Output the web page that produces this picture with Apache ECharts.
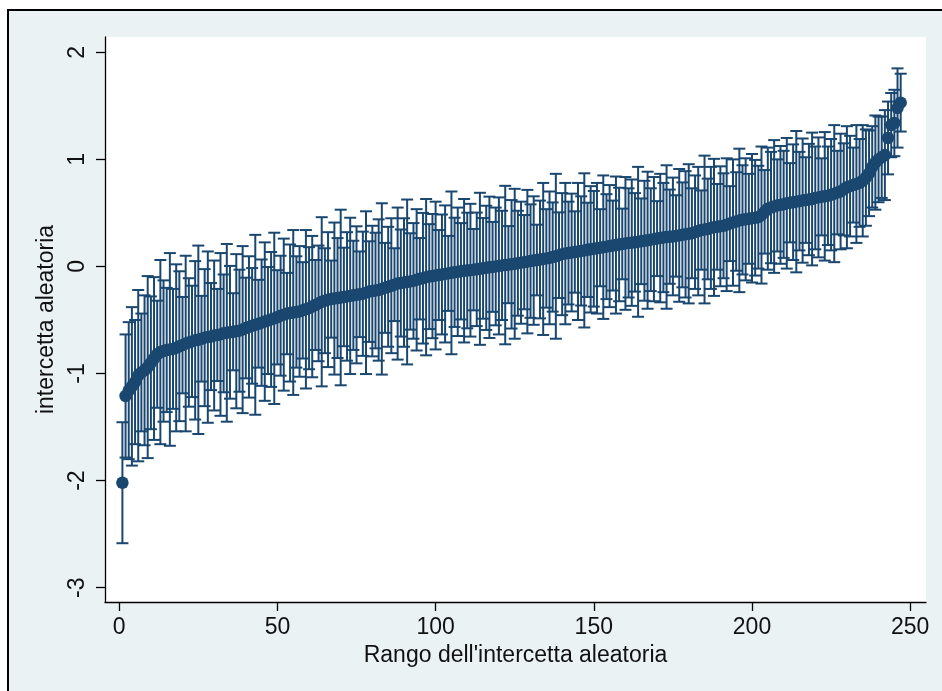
<!DOCTYPE html>
<html>
<head>
<meta charset="utf-8">
<script src="https://cdn.jsdelivr.net/npm/echarts@6/dist/echarts.min.js"></script>
<style>
html,body{margin:0;padding:0;background:#ffffff;}
#chart{width:942px;height:691px;}
</style>
</head>
<body>
<div id="chart"></div>
<script>
// Point estimates of the random intercepts, sorted by rank (1..247)
const estimates = [
-2.02,-1.21,-1.16,-1.12,-1.08,-1.02,-0.99,-0.97,-0.94,-0.90,
-0.86,-0.82,-0.80,-0.79,-0.78,-0.775,-0.77,-0.76,-0.745,-0.735,
-0.72,-0.71,-0.70,-0.69,-0.685,-0.675,-0.665,-0.66,-0.655,-0.645,
-0.64,-0.635,-0.625,-0.62,-0.615,-0.61,-0.605,-0.60,-0.59,-0.575,
-0.565,-0.555,-0.545,-0.535,-0.525,-0.515,-0.505,-0.495,-0.485,-0.475,
-0.46,-0.45,-0.44,-0.435,-0.43,-0.425,-0.42,-0.41,-0.40,-0.39,
-0.375,-0.36,-0.345,-0.33,-0.32,-0.31,-0.305,-0.30,-0.295,-0.29,
-0.285,-0.28,-0.275,-0.27,-0.265,-0.26,-0.255,-0.245,-0.235,-0.23,
-0.225,-0.22,-0.21,-0.20,-0.19,-0.18,-0.17,-0.16,-0.155,-0.15,
-0.145,-0.14,-0.135,-0.125,-0.115,-0.11,-0.10,-0.095,-0.09,-0.085,
-0.08,-0.075,-0.07,-0.065,-0.06,-0.055,-0.05,-0.045,-0.04,-0.038,
-0.035,-0.03,-0.027,-0.022,-0.018,-0.013,-0.008,-0.004,0.0,0.005,
0.01,0.013,0.017,0.02,0.025,0.03,0.035,0.04,0.045,0.05,
0.055,0.06,0.065,0.07,0.075,0.08,0.088,0.095,0.105,0.115,
0.12,0.125,0.13,0.135,0.14,0.145,0.15,0.155,0.16,0.165,
0.17,0.175,0.18,0.185,0.19,0.195,0.20,0.205,0.21,0.215,
0.22,0.222,0.225,0.23,0.235,0.24,0.245,0.25,0.255,0.26,
0.265,0.27,0.275,0.278,0.28,0.285,0.29,0.295,0.30,0.305,
0.31,0.32,0.33,0.34,0.345,0.35,0.36,0.365,0.37,0.375,
0.38,0.39,0.40,0.41,0.42,0.43,0.435,0.44,0.445,0.45,
0.455,0.46,0.48,0.51,0.54,0.55,0.56,0.57,0.575,0.58,
0.59,0.595,0.60,0.605,0.61,0.615,0.62,0.625,0.63,0.64,
0.645,0.65,0.655,0.66,0.67,0.68,0.69,0.70,0.72,0.74,
0.75,0.76,0.77,0.78,0.80,0.83,0.87,0.93,0.97,1.00,
1.02,1.04,1.20,1.32,1.34,1.48,1.53
];
// Half-widths of the confidence intervals (same order)
const halfWidths = [
0.565,0.575,0.64,0.74,0.58,0.80,0.55,0.70,0.85,0.62,
0.76,0.50,0.86,0.66,0.58,0.90,0.56,0.78,0.70,0.45,
0.82,0.60,0.52,0.74,0.88,0.40,0.64,0.80,0.50,0.70,
0.43,0.76,0.55,0.83,0.62,0.36,0.72,0.57,0.78,0.47,
0.66,0.54,0.84,0.41,0.59,0.74,0.50,0.63,0.80,0.44,
0.56,0.71,0.38,0.64,0.77,0.52,0.61,0.45,0.74,0.57,
0.66,0.42,0.54,0.79,0.49,0.63,0.36,0.71,0.56,0.82,
0.46,0.60,0.73,0.51,0.64,0.40,0.58,0.76,0.47,0.61,
0.54,0.66,0.80,0.42,0.56,0.63,0.34,0.71,0.50,0.60,
0.77,0.45,0.54,0.66,0.38,0.61,0.73,0.49,0.58,0.69,
0.42,0.56,0.64,0.35,0.76,0.51,0.60,0.45,0.67,0.54,
0.62,0.38,0.53,0.71,0.47,0.58,0.66,0.42,0.55,0.64,
0.51,0.74,0.36,0.60,0.70,0.49,0.57,0.44,0.67,0.53,
0.60,0.33,0.55,0.71,0.46,0.62,0.51,0.77,0.40,0.57,
0.66,0.48,0.55,0.38,0.64,0.51,0.72,0.44,0.59,0.54,
0.61,0.36,0.67,0.49,0.57,0.42,0.64,0.53,0.33,0.62,
0.51,0.59,0.46,0.70,0.40,0.56,0.64,0.48,0.58,0.35,
0.60,0.51,0.67,0.44,0.55,0.38,0.62,0.49,0.59,0.65,
0.42,0.53,0.60,0.37,0.69,0.47,0.57,0.64,0.40,0.56,
0.49,0.62,0.35,0.59,0.46,0.67,0.51,0.57,0.42,0.60,
0.54,0.48,0.64,0.39,0.57,0.52,0.62,0.43,0.55,0.50,
0.61,0.37,0.54,0.66,0.46,0.58,0.40,0.52,0.62,0.48,
0.56,0.36,0.60,0.46,0.52,0.64,0.39,0.54,0.43,0.57,
0.47,0.35,0.55,0.41,0.52,0.45,0.40,0.38,0.44,0.40,
0.38,0.42,0.34,0.30,0.31,0.37,0.27
];
const xTicks = [0, 50, 100, 150, 200, 250];
const yTicks = [-3, -2, -1, 0, 1, 2];
const xTitle = "Rango dell'intercetta aleatoria";
const yTitle = "intercetta aleatoria";

const NAVY = '#1a476f';
const FONT = '"Liberation Sans", Arial, Helvetica, sans-serif';

const pointData = estimates.map((v, i) => [i + 1, v]);
const ciData = estimates.map((v, i) => [i + 1, v - halfWidths[i], v + halfWidths[i]]);

const chart = echarts.init(document.getElementById('chart'), null, {renderer: 'canvas'});

chart.setOption({
  animation: false,
  backgroundColor: '#ffffff',
  graphic: [{
    type: 'rect',
    z: -10,
    silent: true,
    shape: {x: 8, y: 10, width: 1000, height: 1000},
    style: {fill: '#eaf2f3', stroke: '#000000', lineWidth: 2}
  }],
  grid: {
    left: 105, top: 37, right: 16, bottom: 89,
    show: true, backgroundColor: '#ffffff', borderWidth: 0
  },
  xAxis: {
    type: 'value',
    min: -4.5, max: 255,
    splitLine: {show: false},
    axisLine: {show: true, onZero: false, lineStyle: {color: '#000', width: 1.3}},
    axisTick: {show: true, length: 9, customValues: xTicks, lineStyle: {color: '#000', width: 1.3}},
    axisLabel: {customValues: xTicks, color: '#111', fontSize: 23, fontFamily: FONT, margin: 14},
    name: xTitle, nameLocation: 'middle', nameGap: 39,
    nameTextStyle: {color: '#111', fontSize: 23, fontFamily: FONT}
  },
  yAxis: {
    type: 'value',
    min: -3.134, max: 2.143,
    splitLine: {show: false},
    axisLine: {show: true, onZero: false, lineStyle: {color: '#000', width: 1.3}},
    axisTick: {show: true, length: 9, customValues: yTicks, lineStyle: {color: '#000', width: 1.3}},
    axisLabel: {customValues: yTicks, rotate: 90, color: '#111', fontSize: 23, fontFamily: FONT, margin: 16},
    name: yTitle, nameLocation: 'middle', nameGap: 40,
    nameTextStyle: {color: '#111', fontSize: 23, fontFamily: FONT}
  },
  series: [
    {
      type: 'custom',
      data: ciData,
      encode: {x: 0, y: [1, 2]},
      z: 2,
      renderItem: function (params, api) {
        const x = api.value(0);
        const lo = api.coord([x, api.value(1)]);
        const hi = api.coord([x, api.value(2)]);
        const cap = 6;
        const st = {stroke: NAVY, lineWidth: 2};
        return {
          type: 'group',
          children: [
            {type: 'line', shape: {x1: lo[0], y1: lo[1], x2: hi[0], y2: hi[1]}, style: st},
            {type: 'line', shape: {x1: lo[0] - cap, y1: lo[1], x2: lo[0] + cap, y2: lo[1]}, style: st},
            {type: 'line', shape: {x1: hi[0] - cap, y1: hi[1], x2: hi[0] + cap, y2: hi[1]}, style: st}
          ]
        };
      }
    },
    {
      type: 'scatter',
      data: pointData,
      symbol: 'circle',
      symbolSize: 12.5,
      z: 3,
      itemStyle: {color: NAVY, opacity: 1}
    }
  ]
});
</script>
</body>
</html>
